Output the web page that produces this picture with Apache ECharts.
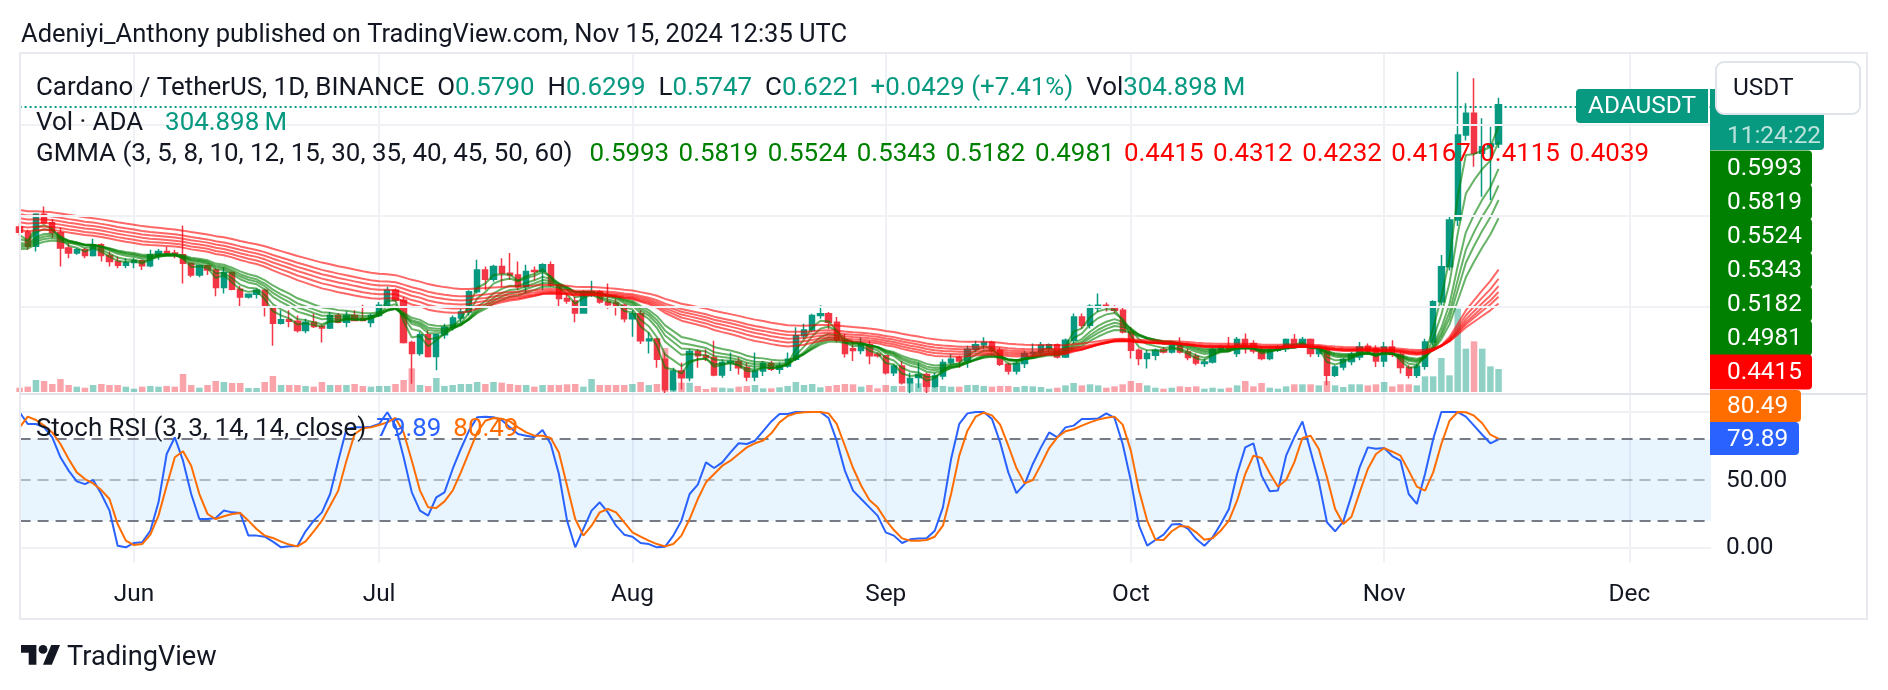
<!DOCTYPE html>
<html>
<head>
<meta charset="utf-8">
<title>ADAUSDT 1D</title>
<script src="https://cdn.jsdelivr.net/npm/echarts@6.0.0/dist/echarts.min.js"></script>
<style>
html, body { margin: 0; padding: 0; background: #ffffff; }
#chart { width: 1888px; height: 690px; }
</style>
</head>
<body>
<div id="chart"></div>
<script>
// ================= data =================
const firstDay = '2024-05-18';
const dayCount = 208; // May 18 .. Dec 11 (visible time range)
const monthStarts = ['2024-06-01','2024-07-01','2024-08-01','2024-09-01','2024-10-01','2024-11-01','2024-12-01'];
const monthTickLabels = ['Jun','Jul','Aug','Sep','Oct','Nov','Dec'];

const opens = [
0.4880,0.4822,0.4667,0.5019,0.4926,0.4815,0.4648,0.4593,0.4630,0.4567,0.4685,0.4567,0.4500,0.4459,
0.4489,0.4507,0.4452,0.4574,0.4611,0.4593,0.4574,0.4481,0.4352,0.4452,0.4407,0.4215,0.4378,0.4196,0.4111,0.4141,0.4185,0.4000,0.3822,0.3859,0.3844,0.3741,0.3833,0.3785,0.3770,0.3907,0.3833,0.3907,0.3870,0.3830,
0.3907,0.4019,0.4185,0.4074,0.3611,0.3489,0.3696,0.3456,0.3696,0.3778,0.3878,0.3944,0.4167,0.4407,0.4304,0.4444,0.4370,0.4352,0.4222,0.4400,0.4389,0.4463,0.4241,0.4093,0.4067,0.3933,0.4148,0.4167,0.4056,0.4045,0.4019,
0.3870,0.3926,0.3630,0.3648,0.3426,0.3093,0.3296,0.3222,0.3511,0.3463,0.3444,0.3252,0.3389,0.3400,0.3333,0.3230,0.3296,0.3378,0.3315,0.3352,0.3426,0.3685,0.3748,0.3907,0.3926,0.3833,0.3637,0.3540,0.3522,0.3585,0.3481,
0.3463,0.3278,0.3352,0.3167,0.3225,0.3259,0.3130,0.3241,0.3389,0.3444,0.3407,0.3537,0.3585,0.3611,0.3526,0.3370,0.3296,0.3380,0.3488,0.3500,0.3545,0.3585,0.3451,0.3635,0.3891,0.3800,0.3990,0.4020,0.4000,0.3965,
0.3726,0.3525,0.3433,0.3470,0.3532,0.3506,0.3587,0.3506,0.3460,0.3378,0.3396,0.3532,0.3561,0.3490,0.3642,0.3600,0.3530,0.3433,0.3525,0.3540,0.3642,0.3580,0.3642,0.3488,0.3532,0.3250,0.3341,0.3400,0.3450,0.3568,0.3540,
0.3407,0.3561,0.3477,0.3334,0.3250,0.3349,0.3616,0.4058,0.4443,0.4956,0.5890,0.6128,0.5689,0.5760,0.5790];
const highs = [
0.4920,0.4850,0.5030,0.5104,0.4963,0.4870,0.4700,0.4648,0.4648,0.4750,0.4700,0.4611,0.4556,0.4537,
0.4537,0.4519,0.4630,0.4637,0.4660,0.4630,0.4896,0.4490,0.4463,0.4463,0.4426,0.4437,0.4390,0.4230,0.4148,0.4204,0.4200,0.4015,0.3963,0.3963,0.3907,0.3870,0.3926,0.3807,0.3944,0.3933,0.3952,0.3963,0.4026,0.3926,
0.4056,0.4222,0.4204,0.4111,0.3630,0.3722,0.3741,0.3707,0.3815,0.3907,0.3981,0.4185,0.4519,0.4444,0.4463,0.4537,0.4593,0.4500,0.4463,0.4444,0.4481,0.4500,0.4259,0.4148,0.4111,0.4185,0.4289,0.4185,0.4259,0.4093,0.4037,
0.3963,0.3963,0.3722,0.3660,0.3500,0.3333,0.3389,0.3537,0.3537,0.3537,0.3630,0.3426,0.3500,0.3444,0.3389,0.3500,0.3407,0.3407,0.3389,0.3500,0.3778,0.3815,0.3926,0.4019,0.3944,0.3889,0.3704,0.3630,0.3667,0.3630,0.3500,
0.3470,0.3370,0.3407,0.3278,0.3389,0.3278,0.3278,0.3426,0.3481,0.3463,0.3574,0.3630,0.3667,0.3630,0.3556,0.3389,0.3420,0.3520,0.3598,0.3616,0.3598,0.3598,0.3653,0.3928,0.3928,0.4030,0.4148,0.4050,0.4020,0.4001,
0.3781,0.3543,0.3525,0.3543,0.3561,0.3598,0.3668,0.3543,0.3488,0.3433,0.3561,0.3580,0.3671,0.3671,0.3708,0.3635,0.3561,0.3543,0.3580,0.3653,0.3704,0.3671,0.3653,0.3561,0.3561,0.3360,0.3440,0.3506,0.3616,0.3598,0.3580,
0.3616,0.3635,0.3500,0.3360,0.3380,0.3650,0.4075,0.4570,0.4992,0.6586,0.6238,0.6513,0.6073,0.5980,0.6299];
const lows = [
0.4780,0.4630,0.4610,0.4907,0.4760,0.4444,0.4537,0.4574,0.4537,0.4556,0.4500,0.4444,0.4426,0.4426,
0.4426,0.4407,0.4437,0.4519,0.4574,0.4537,0.4259,0.4326,0.4326,0.4352,0.4119,0.4148,0.4185,0.4000,0.4093,0.4093,0.3896,0.3574,0.3807,0.3778,0.3720,0.3711,0.3770,0.3611,0.3759,0.3822,0.3778,0.3844,0.3844,0.3778,
0.3889,0.4000,0.4056,0.3600,0.3156,0.3463,0.3444,0.3304,0.3650,0.3741,0.3833,0.3907,0.4148,0.4185,0.4278,0.4222,0.4296,0.4185,0.4148,0.4290,0.4185,0.4222,0.4000,0.4037,0.3833,0.3926,0.4111,0.4037,0.3981,0.3907,0.3833,
0.3674,0.3593,0.3489,0.3333,0.2760,0.3074,0.3093,0.3185,0.3333,0.3407,0.3240,0.3222,0.3296,0.3259,0.3185,0.3185,0.3241,0.3296,0.3267,0.3333,0.3407,0.3648,0.3722,0.3870,0.3759,0.3611,0.3444,0.3407,0.3481,0.3370,0.3444,
0.3259,0.3241,0.3148,0.3044,0.3111,0.3030,0.3111,0.3204,0.3370,0.3333,0.3333,0.3500,0.3537,0.3500,0.3352,0.3259,0.3259,0.3330,0.3433,0.3470,0.3506,0.3433,0.3440,0.3598,0.3763,0.3763,0.3946,0.3950,0.3930,0.3708,
0.3433,0.3360,0.3323,0.3415,0.3488,0.3488,0.3488,0.3415,0.3360,0.3341,0.3378,0.3506,0.3506,0.3451,0.3488,0.3488,0.3415,0.3415,0.3506,0.3506,0.3543,0.3561,0.3451,0.3451,0.3140,0.3231,0.3305,0.3360,0.3415,0.3488,0.3341,
0.3341,0.3451,0.3268,0.3213,0.3220,0.3310,0.3580,0.4020,0.4400,0.4889,0.5830,0.5542,0.5212,0.5175,0.5747];
const closes = [
0.4822,0.4667,0.5019,0.4926,0.4815,0.4648,0.4593,0.4630,0.4567,0.4685,0.4567,0.4500,0.4459,0.4489,
0.4507,0.4452,0.4574,0.4611,0.4593,0.4574,0.4481,0.4352,0.4452,0.4407,0.4215,0.4378,0.4196,0.4111,0.4141,0.4185,0.4000,0.3822,0.3859,0.3844,0.3741,0.3833,0.3785,0.3770,0.3907,0.3833,0.3907,0.3852,0.3852,0.3907,
0.4019,0.4185,0.4074,0.3611,0.3489,0.3696,0.3456,0.3696,0.3778,0.3878,0.3944,0.4167,0.4407,0.4304,0.4444,0.4370,0.4352,0.4222,0.4389,0.4389,0.4463,0.4241,0.4093,0.4067,0.3933,0.4167,0.4167,0.4056,0.4026,0.4019,0.3870,
0.3926,0.3630,0.3648,0.3426,0.3093,0.3296,0.3222,0.3511,0.3463,0.3444,0.3252,0.3389,0.3400,0.3333,0.3230,0.3296,0.3378,0.3315,0.3352,0.3426,0.3685,0.3748,0.3907,0.3926,0.3833,0.3637,0.3489,0.3522,0.3585,0.3463,0.3463,
0.3278,0.3352,0.3167,0.3215,0.3259,0.3130,0.3241,0.3389,0.3426,0.3407,0.3537,0.3585,0.3611,0.3526,0.3370,0.3296,0.3380,0.3488,0.3500,0.3580,0.3585,0.3451,0.3635,0.3891,0.3800,0.4009,0.4020,0.4000,0.3965,0.3726,
0.3525,0.3433,0.3488,0.3525,0.3506,0.3580,0.3506,0.3444,0.3385,0.3396,0.3532,0.3561,0.3532,0.3642,0.3561,0.3517,0.3433,0.3525,0.3561,0.3642,0.3580,0.3642,0.3488,0.3532,0.3250,0.3341,0.3422,0.3481,0.3561,0.3517,0.3407,
0.3561,0.3477,0.3334,0.3250,0.3349,0.3616,0.4058,0.4443,0.4956,0.5890,0.6128,0.5689,0.5760,0.5792,0.6221];
// volume, millions of ADA
const volumes = [
57,71,159,146,106,172,93,71,57,93,106,93,93,71,
44,71,80,71,80,71,239,93,57,93,146,133,119,119,53,53,133,212,93,93,93,80,71,133,93,93,93,106,80,71,
80,80,106,159,314,93,80,186,80,93,106,106,133,106,133,124,106,93,93,71,93,93,93,102,106,71,172,93,93,93,93,
106,133,93,106,583,124,124,124,80,40,62,57,49,71,80,93,49,49,62,80,133,93,106,62,80,93,106,102,71,93,49,
93,80,80,124,115,133,71,80,71,71,93,93,80,71,80,80,66,80,75,66,44,57,88,119,88,102,88,57,75,102,
146,119,88,57,44,57,75,66,75,44,57,44,57,88,146,75,119,57,44,75,102,102,102,88,146,88,66,102,102,88,102,
133,75,102,102,88,208,208,451,221,1105,575,672,575,340,304.898];
// Stoch RSI %K (blue) and %D (orange)
const stochK = [
99.8,91.2,91.2,88.7,81.4,66.7,56.9,49,47,50,39.7,27.5,1.7,0.5,
3.7,4.2,12.7,33.6,69.1,81.4,64.2,39.7,21.3,21.3,22,27.5,26.2,25.7,9.1,9.1,8.3,4.7,0.5,1.2,1.5,12.3,20.1,26.2,39.7,64.2,87.5,88.7,88.7,89.2,
91.2,99.8,90,66.7,40.9,27.5,23.8,37.3,40.9,58.1,72.8,86.3,96.1,96.6,96.1,94.1,88.7,83.8,82.6,81.4,86.8,76.5,54.4,20.1,0.5,14,27.5,33.6,26.2,16.4,9.8,
8.3,3.7,2.9,0.5,1,9.1,20.1,39.7,46.6,63,58.8,63,70.3,77,76.5,78.9,86,93.1,98.5,98.5,100,100,100,100,95.6,78.9,56.9,42.2,36,29.9,23.8,
11.5,9.1,3.7,6.4,6.9,7.1,12.7,29.9,65.4,91.2,99,100,100,94.9,77.7,55.6,40.4,47,61.8,74,85,81.4,88.7,90,94.9,94.9,95.3,99,95.6,76.5,
49.5,16.4,1.7,5.9,9.8,17.2,17.6,14,6.6,1.7,7.8,17.6,28.7,54.4,74,77,53.2,41.7,42.2,67.9,81.4,93.1,71.1,49,18.9,12.3,19.6,38.5,59.3,74,73,
73.5,67.6,64.2,39.7,32.4,54.4,80.1,100,100,100,96.6,90,83.3,77,79.89];
const stochD = [
88.7,96.6,94.1,90,85,76.5,65.4,55.6,50.7,47.5,42.6,36,17.6,5.4,
2.2,2.9,9.8,23.8,45.8,66.7,71.1,60.5,39.7,25,21.3,23.3,25,25.7,20.1,14,9.1,7.4,4.7,2.5,1.2,4.9,12.3,20.1,31.1,42.2,64.2,83.8,88,88.7,
90.4,92.4,95.6,85,64.2,42.2,29.9,29.4,34.3,42.2,55.6,70.3,85,93.6,95.6,95.1,93.1,88.7,85,82.6,82.6,80.9,70.3,45.8,21.3,9.1,16.4,26.2,28.7,26.2,18.9,
11.5,8.3,5.4,2.9,1.2,2.9,9.1,21.3,36,48.3,54.4,60.5,64.2,69.1,74,77,79,84.3,92.4,97.1,99,99.8,100,100,99,91.2,75.2,58.8,45.8,35.3,29.9,
20.6,13.2,7.1,5.4,5.4,5.9,8.3,16.4,39.7,67.9,86.3,96.6,99.5,97.5,90.7,75.2,58.8,47.5,50,61.3,73.5,81.4,85.8,87.3,90,92.4,94.4,95.8,96.6,90.7,
71.6,42.2,20.1,6.1,5.9,12.3,16.2,15.7,11.5,6.1,7.1,12.7,20.1,34.8,54.4,67.9,66.2,54.9,45.1,50,63,80.9,82.6,72.8,52,28.7,17.6,23,40.9,58.1,69.1,
73.5,70.8,67.9,56.9,45.1,42.2,55.6,76.5,93.6,100,99.8,97.3,91.7,83.3,80.49];

// GMMA: exponential averages of the close; starting levels read at the left edge of the picture
const gmmaPeriods = [3, 5, 8, 10, 12, 15, 30, 35, 40, 45, 50, 60];
const gmmaStart   = [0.476, 0.471, 0.467, 0.465, 0.463, 0.461, 0.4844, 0.4889, 0.4937, 0.4981, 0.5026, 0.5074];
const gmmaLast    = ['0.5993','0.5819','0.5524','0.5343','0.5182','0.4981','0.4415','0.4312','0.4232','0.4167','0.4115','0.4039'];
const priceGridLevels = [0.4, 0.5, 0.6];
const stochAxisLabels = ['50.00', '0.00'];
const lastPrice = 0.6221;
const countdown = '11:24:22';
const volLast = '304.898\u2009M';

// ================= helpers =================
const FONT = 'Roboto';
const mctx = document.createElement('canvas').getContext('2d');
function fit(text, target, weight) {
  mctx.font = (weight || 'normal') + ' 100px ' + FONT;
  return Math.round(1000 * target / mctx.measureText(text).width) / 10;
}
const FS_TITLE = fit('Adeniyi_Anthony published on TradingView.com, Nov 15, 2024 12:35 UTC', 827);
const FS_LEG = fit('GMMA (3, 5, 8, 10, 12, 15, 30, 35, 40, 45, 50, 60)', 537);
const FS_AX = fit('0.5819', 75);
const FS_TV = fit('TradingView', 150);

const C_TEXT = '#131722', C_UP = '#089981', C_DN = '#F23645';
const C_G = '#008000', C_R = '#FF0000', C_K = '#2962FF', C_D = '#FF6D00';

const PRICE_MIN = 0.3044, PRICE_MAX = 0.6791;

const cats = [];
{
  const t0 = Date.parse(firstDay + 'T00:00:00Z');
  for (let i = 0; i < dayCount; i++) cats.push(new Date(t0 + i * 86400000).toISOString().slice(0, 10));
}
const isMonthStart = (idx, val) => monthStarts.indexOf(val) >= 0;

// wicks that run past the pane are cut at its edge, as in the picture
const candleData = closes.map((c, i) => [opens[i], c, Math.max(lows[i], PRICE_MIN), Math.min(highs[i], PRICE_MAX)]);
const volData = volumes.map((v, i) => ({
  value: v,
  itemStyle: { color: closes[i] >= opens[i] ? 'rgba(8,153,129,0.45)' : 'rgba(242,54,69,0.45)' }
}));
function ema(period, start) {
  const a = 2 / (period + 1);
  let e = start;
  return closes.map(c => (e = a * c + (1 - a) * e));
}

const n = closes.length;
const chg = closes[n - 1] - closes[n - 2];
const chgTxt = (chg >= 0 ? '+' : '') + chg.toFixed(4) + ' (' + (chg >= 0 ? '+' : '') + (100 * chg / closes[n - 2]).toFixed(2) + '%)';

// ================= chart =================
const chart = echarts.init(document.getElementById('chart'), null, { renderer: 'canvas', devicePixelRatio: 1 });

const gridLine = { color: '#F0F1F4', width: 2, type: 'solid' };
const series = [];

series.push({
  type: 'line', xAxisIndex: 0, yAxisIndex: 0, data: [], z: 0, silent: true,
  markLine: { silent: true, symbol: 'none', animation: false, label: { show: false },
    lineStyle: gridLine, data: priceGridLevels.map(v => ({ yAxis: v })) }
});
series.push({
  type: 'bar', xAxisIndex: 0, yAxisIndex: 1, data: volData, barWidth: 6.5, z: 1, silent: true
});
series.push({
  type: 'candlestick', xAxisIndex: 0, yAxisIndex: 0, data: candleData, barWidth: 5.8, z: 3, silent: true,
  itemStyle: { color: C_UP, color0: C_DN, borderColor: C_UP, borderColor0: C_DN, borderWidth: 1.5 },
  markLine: { silent: true, symbol: 'none', animation: false, label: { show: false },
    lineStyle: { color: C_UP, width: 2, type: [2, 3] }, data: [{ yAxis: lastPrice }] }
});
gmmaPeriods.forEach((p, j) => {
  series.push({
    type: 'line', xAxisIndex: 0, yAxisIndex: 0, data: ema(p, gmmaStart[j]), symbol: 'none', silent: true,
    z: 4, lineStyle: { color: j < 6 ? C_G : C_R, width: 2, opacity: 0.6 }
  });
});
series.push({
  type: 'line', xAxisIndex: 1, yAxisIndex: 2, data: [], z: 0, silent: true,
  markArea: { silent: true, itemStyle: { color: 'rgba(33,150,243,0.1)' }, data: [[{ yAxis: 20 }, { yAxis: 80 }]] },
  markLine: { silent: true, symbol: 'none', animation: false, label: { show: false }, data: [
    { yAxis: 100, lineStyle: gridLine },
    { yAxis: 0, lineStyle: gridLine },
    { yAxis: 80, lineStyle: { color: '#787B86', width: 2, type: [11, 7] } },
    { yAxis: 50, lineStyle: { color: 'rgba(120,123,134,0.5)', width: 2, type: [11, 7] } },
    { yAxis: 20, lineStyle: { color: '#787B86', width: 2, type: [11, 7] } }
  ] }
});
series.push({ type: 'line', xAxisIndex: 1, yAxisIndex: 2, data: stochK, symbol: 'none', silent: true, z: 5,
  lineStyle: { color: C_K, width: 2 } });
series.push({ type: 'line', xAxisIndex: 1, yAxisIndex: 2, data: stochD, symbol: 'none', silent: true, z: 6,
  lineStyle: { color: C_D, width: 2 } });

// ---------- overlay graphics ----------
const G = [];
const txt = (x, y, text, fill, size, extra) => ({
  type: 'text', z: 100, silent: true,
  style: Object.assign({ x, y, text, fill, fontSize: size, fontFamily: FONT, align: 'left', verticalAlign: 'middle' }, extra || {})
});
const box = (x, y, w, h, fill, r, extra) => ({ type: 'rect', z: 99, silent: true,
  shape: { x, y, width: w, height: h, r: r || 0 }, style: Object.assign({ fill }, extra || {}) });

G.push(txt(21, 36, 'Adeniyi_Anthony published on TradingView.com, Nov 15, 2024 12:35 UTC', C_TEXT, FS_TITLE));
G.push({ type: 'rect', z: 98, silent: true, shape: { x: 20, y: 53, width: 1847, height: 566 },
  style: { fill: 'none', stroke: '#E8EAEF', lineWidth: 2 } });
G.push({ type: 'line', z: 98, silent: true, shape: { x1: 20, y1: 394, x2: 1867, y2: 394 },
  style: { stroke: '#E0E3EB', lineWidth: 2 } });

const st = (fill, padLeft) => ({ fill, fontSize: FS_LEG, fontFamily: FONT, padding: [0, 0, 0, padLeft || 0] });
const legRich = {
  a: st(C_TEXT), b: st(C_TEXT, 13), v: st(C_UP), w: st(C_UP, 9), u: st(C_UP, 22),
  g0: st(C_G, 17), g: st(C_G, 9.5), r: st(C_R, 9.5), k: st(C_K, 10), d: st(C_D, 12)
};
const f4 = v => v.toFixed(4);
G.push(txt(36, 89,
  '{a|Cardano / TetherUS, 1D, BINANCE}{b|O}{v|' + f4(opens[n - 1]) + '}{b|H}{v|' + f4(highs[n - 1]) +
  '}{b|L}{v|' + f4(lows[n - 1]) + '}{b|C}{v|' + f4(closes[n - 1]) + '}{w|' + chgTxt + '}{b|Vol}{v|' + volLast + '}',
  C_TEXT, FS_LEG, { rich: legRich }));
G.push(txt(36, 123.5, '{a|Vol \u00b7 ADA}{u|' + volLast + '}', C_TEXT, FS_LEG, { rich: legRich }));
G.push(txt(36, 155, '{a|GMMA (' + gmmaPeriods.join(', ') + ')}' +
  gmmaLast.map((t, j) => (j === 0 ? '{g0|' : j < 6 ? '{g|' : '{r|') + t + '}').join(''), C_TEXT, FS_LEG, { rich: legRich }));
G.push(txt(36, 429.5, '{a|Stoch RSI (3, 3, 14, 14, close)}{k|' + stochK[n - 1].toFixed(2) + '}{d|' + stochD[n - 1].toFixed(2) + '}',
  C_TEXT, FS_LEG, { rich: legRich }));

G.push(box(1710, 89, 114, 61, C_UP, [0, 4, 4, 0]));
G.push(txt(1727, 107, lastPrice.toFixed(4), '#ffffff', FS_AX));
G.push(txt(1727, 137, countdown, 'rgba(255,255,255,0.72)', FS_AX));
G.push(box(1576, 89, 132, 34, C_UP, [4, 0, 0, 4]));
G.push(txt(1642, 107, 'ADAUSDT', '#ffffff', FS_AX, { align: 'center' }));
G.push(Object.assign(box(1716, 62, 144, 52, '#ffffff', 8, { stroke: '#E0E3EB', lineWidth: 2 }), { z: 101 }));
G.push(Object.assign(txt(1733, 89, 'USDT', C_TEXT, FS_AX), { z: 102 }));

for (let j = 0; j < 7; j++) {
  const cy = 168 + 34 * j;
  G.push(box(1710, cy - 17.5, 102, 35, j < 6 ? C_G : C_R, [0, 4, 4, 0]));
  G.push(txt(1727, cy + 1, gmmaLast[j], '#ffffff', FS_AX));
}
G.push(box(1710, 390, 91, 32, C_D, [0, 4, 4, 0]));
G.push(txt(1727, 407, stochD[n - 1].toFixed(2), '#ffffff', FS_AX));
G.push(box(1710, 422, 89, 33, C_K, [0, 4, 4, 0]));
G.push(txt(1727, 439.5, stochK[n - 1].toFixed(2), '#ffffff', FS_AX));
G.push(txt(1726, 481, stochAxisLabels[0], C_TEXT, FS_AX));
G.push(txt(1726, 548, stochAxisLabels[1], C_TEXT, FS_AX));

// TradingView logo
G.push({ type: 'group', x: 21, y: 640.6, scaleX: 1.1, scaleY: 1.1, silent: true, z: 100, children: [
  { type: 'polygon', shape: { points: [[14, 22], [7, 22], [7, 11], [0, 11], [0, 4], [14, 4]] }, style: { fill: C_TEXT } },
  { type: 'polygon', shape: { points: [[28, 22], [20, 22], [27.5, 4], [35.5, 4]] }, style: { fill: C_TEXT } },
  { type: 'circle', shape: { cx: 20, cy: 8, r: 4 }, style: { fill: C_TEXT } }
] });
G.push(txt(67, 658, 'TradingView', C_TEXT, FS_TV));

const lens = [opens.length, highs.length, lows.length, closes.length, volumes.length, stochK.length, stochD.length];
if (lens.some(l => l !== lens[0])) G.push(txt(900, 30, 'LENGTH MISMATCH ' + lens.join(','), '#ff0000', 20));

const xBase = {
  type: 'category', data: cats, boundaryGap: false,
  axisLine: { show: false }, axisTick: { show: false },
  splitLine: { show: true, interval: isMonthStart, lineStyle: gridLine }
};
chart.setOption({
  animation: false,
  backgroundColor: '#ffffff',
  grid: [
    { left: 19.6, top: 53, width: 1691.4, height: 341 },
    { left: 19.6, top: 394, width: 1691.4, height: 169 }
  ],
  xAxis: [
    Object.assign({}, xBase, { gridIndex: 0, axisLabel: { show: false } }),
    Object.assign({}, xBase, { gridIndex: 1, axisLabel: {
      show: true, interval: isMonthStart, color: C_TEXT, fontFamily: FONT, fontSize: FS_AX, margin: 20,
      formatter: v => { const k = monthStarts.indexOf(v); return k >= 0 ? monthTickLabels[k] : ''; } } })
  ],
  yAxis: [
    { type: 'value', gridIndex: 0, min: PRICE_MIN, max: PRICE_MAX, show: false },
    { type: 'value', gridIndex: 0, min: -26.5, max: 4495, show: false },
    { type: 'value', gridIndex: 1, min: -11.03, max: 113.24, show: false }
  ],
  series: series,
  graphic: G
});
</script>
</body>
</html>
